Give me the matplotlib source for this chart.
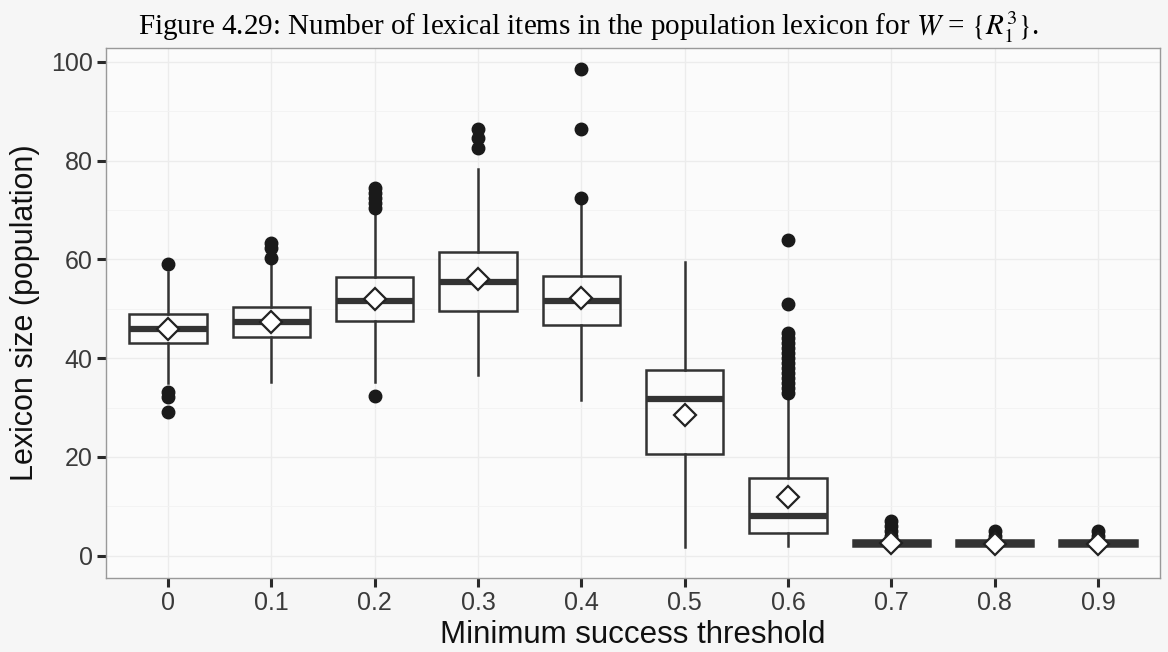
import matplotlib
matplotlib.use('Agg')
import matplotlib.pyplot as plt
import numpy as np

# data
thresholds = ['0', '0.1', '0.2', '0.3', '0.4', '0.5', '0.6', '0.7', '0.8', '0.9']
q1 = [43, 44.3, 47.5, 49.5, 46.7, 20.7, 4.7, 1.9, 1.9, 1.9]
med = [46, 47.3, 51.5, 55.5, 51.5, 31.7, 8, 2.5, 2.5, 2.5]
q3 = [49, 50.3, 56.5, 61.5, 56.6, 37.6, 15.8, 3.1, 3.1, 3.1]
whislo = [35, 35.2, 35.2, 36.5, 31.6, 1.8, 1.9, 1.9, 1.9, 1.9]
whishi = [57.5, 59.3, 69.5, 78.3, 71, 59.5, 32.3, 3.1, 3.1, 3.1]
means = [46, 47.3, 51.9, 56.1, 52.2, 28.6, 11.9, 2.6, 2.4, 2.4]
outliers = [
    [59, 33.2, 32.2, 29.1],
    [60.3, 62.3, 63.3],
    [32.3, 70.5, 71.5, 72.5, 73.5, 74.5],
    [82.6, 84.5, 86.5],
    [72.5, 86.5, 98.6],
    [],
    [33, 34, 35, 36, 37, 38, 39, 40, 41, 42, 43, 44, 45, 51, 64],
    [4, 5, 6, 7],
    [4, 5],
    [4, 5],
]

plt.rcParams['font.family'] = ['Liberation Sans', 'DejaVu Sans']

fig = plt.figure(figsize=(11.68, 6.52), dpi=100)
fig.patch.set_facecolor('#f6f6f6')
ax = fig.add_axes([106/1168, 1 - 578/652, (1160-106)/1168, (578-48)/652])
ax.set_facecolor('#fbfbfb')

stats = []
for i in range(len(thresholds)):
    stats.append({'q1': q1[i], 'med': med[i], 'q3': q3[i], 'whislo': whislo[i],
                  'whishi': whishi[i], 'fliers': outliers[i], 'mean': means[i]})

pos = np.arange(1, len(thresholds) + 1)
ax.bxp(stats, positions=pos, widths=0.75, showmeans=True, patch_artist=True,
       boxprops=dict(facecolor='none', edgecolor='#333333', linewidth=1.8),
       medianprops=dict(color='#333333', linewidth=4.5),
       whiskerprops=dict(color='#333333', linewidth=1.8),
       capprops=dict(linewidth=0),
       flierprops=dict(marker='o', markerfacecolor='#1a1a1a', markeredgecolor='#1a1a1a',
                       markersize=9),
       meanprops=dict(marker='D', markerfacecolor='white', markeredgecolor='#222222',
                      markersize=11, markeredgewidth=1.6),
       zorder=3)

ax.set_xlim(0.4, 10.6)
ax.set_ylim(-4.5, 102.8)
ax.set_xticks(pos)
ax.set_xticklabels(thresholds)
ax.set_yticks([0, 20, 40, 60, 80, 100])
ax.set_yticks([10, 30, 50, 70, 90], minor=True)
ax.tick_params(axis='both', which='major', labelsize=18, colors='#2a2a2a',
               labelcolor='#3a3a3a', length=6.5, width=2.2, pad=3)
ax.tick_params(axis='y', which='minor', length=0)
ax.grid(True, which='major', color='#ececec', linewidth=1.0, zorder=0)
ax.grid(True, which='minor', axis='y', color='#f2f2f2', linewidth=0.6, zorder=0)
ax.set_axisbelow(True)
for s in ax.spines.values():
    s.set_color('#999999')
    s.set_linewidth(1.0)

ax.set_xlabel('Minimum success threshold', fontsize=22.5, color='#111111')
ax.set_ylabel('Lexicon size (population)', fontsize=22, color='#111111')
ax.xaxis.set_label_coords(0.5, -0.08)
ax.yaxis.set_label_coords(-0.063, 0.5)

fig.text(0.504, 0.958, r'Figure 4.29: Number of lexical items in the population lexicon for $W$ = $\{R_1^3\}$.',
         ha='center', va='center', fontsize=21, family='Liberation Serif',
         math_fontfamily='stix')

plt.savefig('out.png', dpi=100, facecolor=fig.get_facecolor())
